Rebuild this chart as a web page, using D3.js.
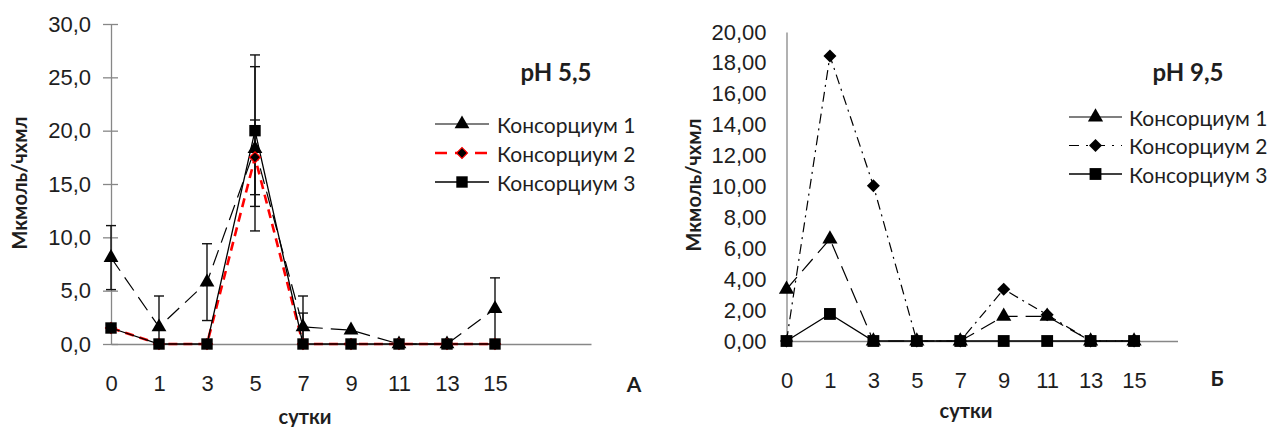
<!DOCTYPE html>
<html>
<head>
<meta charset="utf-8">
<script src="https://cdn.jsdelivr.net/npm/d3@7"></script>
<style>
  body { margin: 0; background: #fff; }
  svg { display: block; font-family: Lato, "Open Sans", sans-serif; }
</style>
</head>
<body>
<div id="chart"></div>
<script>
// days on the x axis (same for both panels)
const days = ["0", "1", "3", "5", "7", "9", "11", "13", "15"];
const seriesNames = ["Консорциум 1", "Консорциум 2", "Консорциум 3"];

// pH 5,5 panel
const ph55_c1 = [8.1, 1.6, 5.8, 18.3, 1.6, 1.3, 0, 0, 3.3];
const ph55_c2 = [1.5, 0, 0, 17.5, 0, 0, 0, 0, 0];
const ph55_c3 = [1.5, 0, 0, 20.0, 0, 0, 0, 0, 0];
const ph55_err1 = [3.0, 2.9, 3.6, 7.7, 2.9, 0, 0, 0, 2.9];
const ph55_err2 = [0, 0, 0, 3.5, 0, 0, 0, 0, 0];
const ph55_err3 = [0, 0, 0, 7.1, 2.9, 0, 0, 0, 0];
const ph55_ticks = [0, 5, 10, 15, 20, 25, 30];

// pH 9,5 panel
const ph95_c1 = [3.35, 6.6, 0, 0, 0, 1.6, 1.6, 0, 0];
const ph95_c2 = [0, 18.45, 10.05, 0, 0, 3.35, 1.7, 0, 0];
const ph95_c3 = [0, 1.75, 0, 0, 0, 0, 0, 0, 0];
const ph95_ticks = [0, 2, 4, 6, 8, 10, 12, 14, 16, 18, 20];

const W = 1273, H = 427;
const textColor = "#1e1e1e";
const axisColor = "#878787";

const ruLocale = d3.formatLocale({decimal: ",", thousands: " ", grouping: [3], currency: ["", ""]});

const svg = d3.select("#chart").append("svg")
  .attr("width", W)
  .attr("height", H);

function drawPanel(cfg) {
  const g = svg.append("g");

  const xScale = d3.scaleLinear().domain([0, cfg.slots]).range([cfg.x0, cfg.x1]);
  const yScale = d3.scaleLinear().domain([0, cfg.yMax]).range([cfg.y0, cfg.y1]);

  // y axis
  const yAxis = g.append("g")
    .attr("transform", "translate(" + cfg.x0 + ",0)")
    .call(d3.axisLeft(yScale)
      .tickValues(cfg.yTicks)
      .tickFormat(ruLocale.format(cfg.yFormat))
      .tickSizeInner(cfg.yTickSize)
      .tickSizeOuter(0)
      .tickPadding(cfg.yPad));
  yAxis.select(".domain").attr("stroke", axisColor).attr("stroke-width", 1.3);
  yAxis.selectAll(".tick line").attr("stroke", axisColor).attr("stroke-width", 1.3)
    .attr("x2", -cfg.yTickSize).attr("x1", cfg.yTickSize > 0 ? 7 : 0);
  yAxis.selectAll(".tick text").attr("fill", textColor).style("font-size", "22px");

  // x axis (category index)
  const xAxis = g.append("g")
    .attr("transform", "translate(0," + cfg.y0 + ")")
    .call(d3.axisBottom(xScale)
      .tickValues(d3.range(days.length))
      .tickFormat(i => days[i])
      .tickSize(0)
      .tickPadding(31));
  xAxis.select(".domain").attr("stroke", axisColor).attr("stroke-width", 1.3);
  xAxis.selectAll(".tick text").attr("fill", textColor).style("font-size", "22px");

  // axis titles
  g.append("text")
    .attr("x", cfg.xLabel[0]).attr("y", cfg.xLabel[1])
    .attr("text-anchor", "middle")
    .attr("fill", textColor)
    .style("font-size", "20px").style("font-weight", "bold")
    .text("сутки");

  g.append("text")
    .attr("transform", "translate(" + cfg.yLabel[0] + "," + cfg.yLabel[1] + ") rotate(-90)")
    .attr("text-anchor", "middle")
    .attr("dominant-baseline", "central")
    .attr("fill", textColor)
    .style("font-size", "20px").style("font-weight", "bold")
    .text("Мкмоль/чхмл");

  g.append("text")
    .attr("x", cfg.title[0]).attr("y", cfg.title[1])
    .attr("text-anchor", "middle")
    .attr("fill", textColor)
    .style("font-size", "24px").style("font-weight", "bold")
    .text(cfg.titleText);

  g.append("text")
    .attr("x", cfg.letter[0]).attr("y", cfg.letter[1])
    .attr("text-anchor", "middle")
    .attr("dominant-baseline", "central")
    .attr("fill", textColor)
    .style("font-size", "21px").style("font-weight", "bold")
    .text(cfg.letterText);

  const line = d3.line()
    .x((d, i) => xScale(i))
    .y(d => yScale(d));

  // lines
  cfg.series.forEach(s => {
    g.append("path")
      .datum(s.values)
      .attr("fill", "none")
      .attr("stroke", s.color)
      .attr("stroke-width", s.width)
      .attr("stroke-dasharray", s.dash)
      .attr("d", line);
  });

  // error bars
  cfg.series.forEach(s => {
    if (!s.errors) return;
    s.values.forEach((v, i) => {
      const e = s.errors[i];
      if (!e) return;
      const hi = yScale(Math.min(cfg.yMax, v + e));
      const lo = yScale(Math.max(0, v - e));
      const eb = g.append("g").attr("stroke", "#111").attr("stroke-width", 1.4);
      eb.append("line").attr("x1", xScale(i)).attr("x2", xScale(i)).attr("y1", hi).attr("y2", lo);
      eb.append("line").attr("x1", xScale(i) - 5).attr("x2", xScale(i) + 5).attr("y1", hi).attr("y2", hi);
      if (v - e > 0) {
        eb.append("line").attr("x1", xScale(i) - 5).attr("x2", xScale(i) + 5).attr("y1", lo).attr("y2", lo);
      }
    });
  });

  // markers
  cfg.series.forEach(s => {
    g.selectAll(null)
      .data(s.values)
      .join("path")
      .attr("transform", (d, i) => "translate(" + xScale(i) + "," + yScale(d) + ")" + (s.rotate ? " rotate(45)" : ""))
      .attr("d", d3.symbol().type(s.symbol).size(s.size))
      .attr("fill", "#000")
      .attr("stroke", s.markerStroke || "none")
      .attr("stroke-width", 1.2);
  });

  // legend
  const leg = g.append("g");
  cfg.series.forEach((s, i) => {
    const y = cfg.legend.y + i * cfg.legend.step;
    leg.append("line")
      .attr("x1", cfg.legend.x0).attr("x2", cfg.legend.x1)
      .attr("y1", y).attr("y2", y)
      .attr("stroke", s.color)
      .attr("stroke-width", s.width)
      .attr("stroke-dasharray", s.legendDash);
    leg.append("path")
      .attr("transform", "translate(" + (cfg.legend.x0 + cfg.legend.x1) / 2 + "," + y + ")" + (s.rotate ? " rotate(45)" : ""))
      .attr("d", d3.symbol().type(s.symbol).size(s.size))
      .attr("fill", "#000")
      .attr("stroke", s.markerStroke || "none")
      .attr("stroke-width", 1.2);
    leg.append("text")
      .attr("x", cfg.legend.tx).attr("y", y)
      .attr("dominant-baseline", "central")
      .attr("fill", textColor)
      .style("font-size", "21px")
      .text(seriesNames[i]);
  });
}

// left panel: pH 5,5
drawPanel({
  x0: 111, x1: 591, slots: 10,
  y0: 344, y1: 24, yMax: 30,
  yTicks: ph55_ticks, yFormat: ".1f", yTickSize: 8, yPad: 12,
  xLabel: [305, 424], yLabel: [19, 183],
  title: [556, 81], titleText: "pH 5,5",
  letter: [634, 383], letterText: "А",
  legend: {x0: 435, x1: 489, tx: 497, y: 124, step: 29},
  series: [
    {values: ph55_c1, errors: ph55_err1, color: "#000", width: 1.2, dash: "16,8", legendDash: null,
     symbol: d3.symbolTriangle, size: 95},
    {values: ph55_c2, errors: ph55_err2, color: "#ff0000", width: 2.6, dash: "9,6", legendDash: "12,8",
     symbol: d3.symbolSquare, size: 60, rotate: true, markerStroke: "#ff0000"},
    {values: ph55_c3, errors: ph55_err3, color: "#000", width: 1.3, dash: null, legendDash: null,
     symbol: d3.symbolSquare, size: 130}
  ]
});

// right panel: pH 9,5
drawPanel({
  x0: 786.5, x1: 1177.5, slots: 9,
  y0: 341, y1: 32, yMax: 20,
  yTicks: ph95_ticks, yFormat: ".2f", yTickSize: 0, yPad: 20,
  xLabel: [966, 418], yLabel: [693, 185],
  title: [1188, 81], titleText: "pH 9,5",
  letter: [1217, 377], letterText: "Б",
  legend: {x0: 1069, x1: 1122, tx: 1129, y: 117, step: 28.5},
  series: [
    {values: ph95_c1, color: "#000", width: 1.2, dash: "16,8", legendDash: null,
     symbol: d3.symbolTriangle, size: 100},
    {values: ph95_c2, color: "#000", width: 1.2, dash: "10,5,2,5", legendDash: "10,7,2,7",
     symbol: d3.symbolSquare, size: 85, rotate: true},
    {values: ph95_c3, color: "#000", width: 1.3, dash: null, legendDash: null,
     symbol: d3.symbolSquare, size: 140}
  ]
});
</script>
</body>
</html>
